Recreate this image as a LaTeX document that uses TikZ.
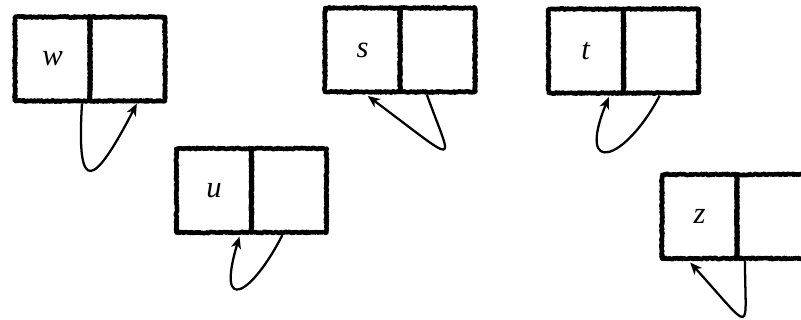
\documentclass[tikz,border=0pt]{standalone}
\usepackage{fontspec}
\setmainfont{Liberation Serif}
\usetikzlibrary{positioning,arrows.meta,decorations.pathmorphing}
\tikzset{
  cellbox/.style={draw, line width=3.4pt, line join=round, line cap=round,
                  minimum width=56.25pt, minimum height=63pt,
                  inner sep=0pt, outer sep=0pt, decorate,
                  decoration={random steps, segment length=0.7pt, amplitude=0.55pt},
                  font=\fontsize{23}{27}\selectfont},
  selfarr/.style={-{Stealth[length=9pt,width=7.5pt,inset=2.5pt]}, line width=1.7pt}
}

\begin{document}
\begin{tikzpicture}[x=0.75pt,y=-0.75pt]
  \useasboundingbox (0,0) rectangle (801,320);

  % Top row: w, s, t
  \node[cellbox] (w1) at (52.5,59) {\textit{w}};
  \node[cellbox, right=0pt of w1] (w2) {};
  \node[cellbox] (s1) at (362.5,50) {\textit{s}};
  \node[cellbox, right=0pt of s1] (s2) {};
  \node[cellbox] (t1) at (586,51) {\textit{t}};
  \node[cellbox, right=0pt of t1] (t2) {};

  % Lower row: u, z
  \node[cellbox] (u1) at (214,190.5) {\textit{u}};
  \node[cellbox, right=0pt of u1] (u2) {};
  \node[cellbox] (z1) at (699.5,216.5) {\textit{z}};
  \node[cellbox, right=0pt of z1] (z2) {};

  % Self links
  \draw[selfarr] ([xshift=-6pt,yshift=-2pt]w1.south east)
    .. controls +(-6,96) and +(-42,81) .. ([xshift=7pt,yshift=-2pt]w2.south);
  \draw[selfarr] ([xshift=-5pt,yshift=-2pt]u2.south)
    .. controls +(-30,59) and +(-24,80) .. ([xshift=-9pt,yshift=-3pt]u1.south east);
  \draw[selfarr] ([xshift=-8pt,yshift=-2pt]s2.south)
    .. controls +(26,72) and +(95,71) .. ([xshift=4pt,yshift=-3pt]s1.south);
  \draw[selfarr] ([xshift=-1pt,yshift=-2pt]t2.south)
    .. controls +(-34,65) and +(-33,81) .. ([xshift=-11pt,yshift=-3pt]t1.south east);
  \draw[selfarr] ([xshift=6pt,yshift=-2pt]z1.south east)
    .. controls +(0,73) and +(65,72) .. ([xshift=-7pt,yshift=-3pt]z1.south);
\end{tikzpicture}
\end{document}
